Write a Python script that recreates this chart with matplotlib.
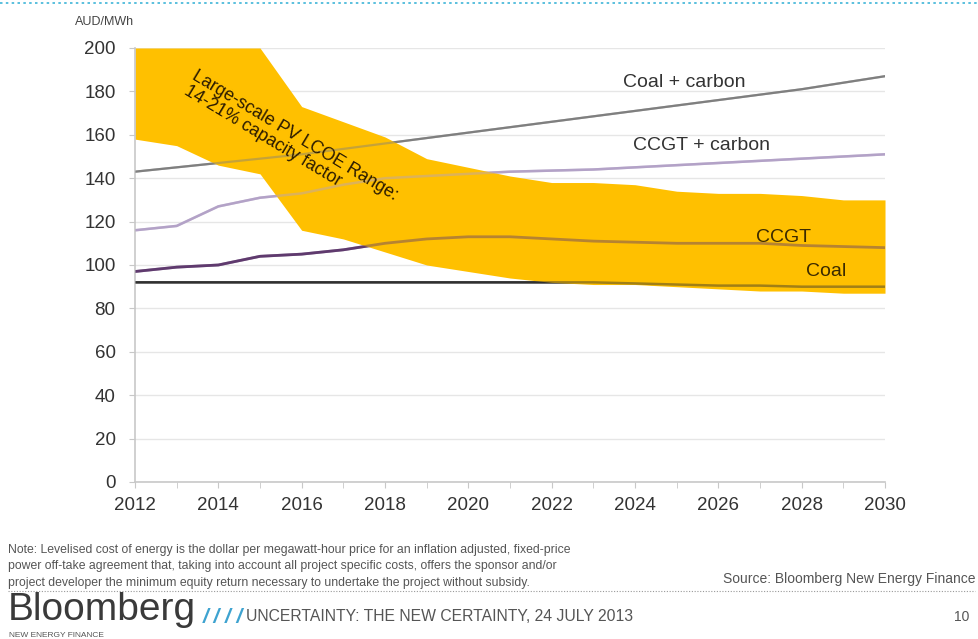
import numpy as np
import matplotlib.pyplot as plt
from matplotlib.lines import Line2D

plt.rcParams["font.family"] = ["Liberation Sans", "DejaVu Sans"]

# data (AUD/MWh)
years = list(range(2012, 2031))
coal_carbon = [143, 145, 147, 149, 151, 153.5, 156, 158.5, 161, 163.5, 166, 168.5, 171, 173.5, 176, 178.5, 181, 184, 187]
ccgt_carbon = [116, 118, 127, 131, 133, 137, 140, 141, 142, 143, 143.5, 144, 145, 146, 147, 148, 149, 150, 151]
ccgt = [97, 99, 100, 104, 105, 107, 110, 112, 113, 113, 112, 111, 110.5, 110, 110, 110, 109, 108.5, 108]
coal = [92, 92, 92, 92, 92, 92, 92, 92, 92, 92, 92, 92, 91.5, 91, 90.5, 90.5, 90, 90, 90]
pv_high = [200, 200, 200, 200, 173, 166, 159, 149, 145, 141, 138, 138, 137, 134, 133, 133, 132, 130, 130]
pv_low = [158, 155, 146, 142, 116, 112, 106, 100, 97, 94, 92, 91, 91, 90, 89, 88, 88, 87, 87]

y_ticks = list(range(0, 201, 20))
x_ticks = list(range(2012, 2031, 2))

fig = plt.figure(figsize=(9.79, 6.39), dpi=100)
ax = fig.add_axes([0.1379, 0.2457, 0.7661, 0.6792])

lines = [
    (coal_carbon, "#7F7F7F", 1.6),
    (ccgt_carbon, "#B3A2C7", 1.8),
    (ccgt, "#5F3A6E", 2.0),
    (coal, "#303030", 1.8),
]
# full lines under the band, faint copies on top so they show through it
for vals, col, lw in lines:
    ax.plot(years, vals, color=col, lw=lw, zorder=1.5)
ax.fill_between(years, pv_low, pv_high, color="#FFC000", lw=0, zorder=2)
for vals, col, lw in lines:
    ax.plot(years, vals, color=col, lw=lw, zorder=3, alpha=0.45)

ax.set_xlim(2012, 2030)
ax.set_ylim(0, 200)
ax.set_yticks(y_ticks)
ax.set_xticks(x_ticks)
ax.set_xticks(years, minor=True)
ax.grid(axis="y", color="#E6E6E6", lw=1, zorder=0)
ax.set_axisbelow(True)
for s in ["top", "right"]:
    ax.spines[s].set_visible(False)
for s in ["left", "bottom"]:
    ax.spines[s].set_color("#C8C8C8")
    ax.spines[s].set_linewidth(1.2)
ax.tick_params(axis="both", which="both", colors="#C8C8C8", labelcolor="#333333", labelsize=13.5, length=4)
ax.tick_params(axis="x", pad=7)
ax.tick_params(axis="y", pad=10)

fig.text(0.077, 0.975, "AUD/MWh", fontsize=9, color="#444444", va="top")

ax.text(2015.74, 156.2, "Large-scale PV LCOE Range:\n14-21% capacity factor", rotation=-31,
        ha="center", va="center", multialignment="left", fontsize=12.8, color="#2B1B00",
        zorder=5, linespacing=1.0)
ax.text(2023.7, 184, "Coal + carbon", fontsize=14, color="#333333", va="center", zorder=5)
ax.text(2023.95, 155, "CCGT + carbon", fontsize=14, color="#333333", va="center", zorder=5)
ax.text(2026.9, 112.5, "CCGT", fontsize=14, color="#3B2A00", va="center", zorder=5)
ax.text(2028.1, 97, "Coal", fontsize=14, color="#3B2A00", va="center", zorder=5)

# page decoration
fig.add_artist(Line2D([0, 1], [0.996, 0.996], color="#3EB5D8", lw=1.2, ls=(0, (1.5, 2))))
note = ("Note: Levelised cost of energy is the dollar per megawatt-hour price for an inflation adjusted, fixed-price\n"
        "power off-take agreement that, taking into account all project specific costs, offers the sponsor and/or\n"
        "project developer the minimum equity return necessary to undertake the project without subsidy.")
fig.text(0.008, 0.148, note, fontsize=8.8, color="#555555", va="top", linespacing=1.45)
fig.text(0.996, 0.083, "Source: Bloomberg New Energy Finance", fontsize=10, color="#555555", ha="right", va="bottom")
fig.add_artist(Line2D([0.008, 0.996], [0.075, 0.075], color="#999999", lw=0.8, ls=(0, (1, 1.5))))
fig.text(0.008, 0.029, "Bloomberg", fontsize=28, color="#3A3A3A", va="baseline")
fig.text(0.009, 0.0, "NEW ENERGY FINANCE", fontsize=6, color="#555555", va="bottom")
fig.text(0.207, 0.018, "/ / / /", fontsize=15, color="#3EA3D0", va="bottom", style="italic", fontweight="bold")
fig.text(0.251, 0.024, "UNCERTAINTY: THE NEW CERTAINTY, 24 JULY 2013", fontsize=11.3, color="#555555", va="bottom")
fig.text(0.99, 0.024, "10", fontsize=10, color="#555555", ha="right", va="bottom")

fig.savefig("out.png", dpi=100)
